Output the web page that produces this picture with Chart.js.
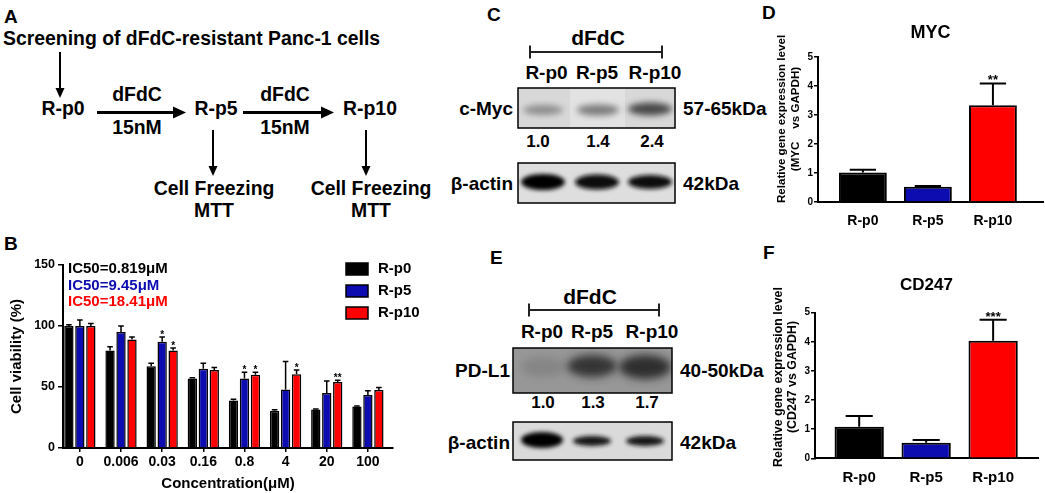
<!DOCTYPE html>
<html>
<head>
<meta charset="utf-8">
<script src="https://cdn.jsdelivr.net/npm/chart.js@4.4.0/dist/chart.umd.min.js"></script>
<style>
  body { margin: 0; background: #fff; }
  #fig { position: relative; width: 1045px; height: 493px; overflow: hidden; }
  #fig canvas { position: absolute; }
  #art { position: absolute; left: 0; top: 0; }
</style>
</head>
<body>
<div id="fig">
<svg id="art" width="1045" height="493" font-family="Liberation Sans, Arial, sans-serif" font-weight="bold" dominant-baseline="central">
  <defs>
    <filter id="bl2" x="-50%" y="-50%" width="200%" height="200%"><feGaussianBlur stdDeviation="2"/></filter>
    <filter id="bl3" x="-50%" y="-50%" width="200%" height="200%"><feGaussianBlur stdDeviation="3"/></filter>
    <filter id="bl4" x="-50%" y="-50%" width="200%" height="200%"><feGaussianBlur stdDeviation="4"/></filter>
    <clipPath id="cMyc"><rect x="518" y="88" width="157" height="40"/></clipPath>
    <clipPath id="cAct1"><rect x="518" y="163" width="157" height="40"/></clipPath>
    <clipPath id="cPdl"><rect x="513" y="348" width="159" height="45"/></clipPath>
    <clipPath id="cAct2"><rect x="513" y="422" width="159" height="38"/></clipPath>
  </defs>

  <!-- panel letters -->
  <g font-size="19">
    <text x="4" y="16">A</text>
    <text x="4" y="243">B</text>
    <text x="487" y="14">C</text>
    <text x="762" y="12">D</text>
    <text x="490" y="257">E</text>
    <text x="763" y="252">F</text>
  </g>

  <!-- A: flow diagram -->
  <g font-size="19.4" text-anchor="middle">
    <text x="3" y="38" text-anchor="start">Screening of dFdC-resistant Panc-1 cells</text>
    <text x="63" y="107.5">R-p0</text>
    <text x="216" y="107.5">R-p5</text>
    <text x="370" y="107.5">R-p10</text>
    <text x="137" y="94">dFdC</text>
    <text x="137" y="127">15nM</text>
    <text x="285" y="94">dFdC</text>
    <text x="285" y="127">15nM</text>
    <text x="214" y="187.5">Cell Freezing</text>
    <text x="214" y="210">MTT</text>
    <text x="371" y="187.5">Cell Freezing</text>
    <text x="371" y="210">MTT</text>
  </g>
  <g stroke="#000" stroke-width="2">
    <line x1="60" y1="52" x2="60" y2="89"/>
    <line x1="213" y1="130" x2="213" y2="167"/>
    <line x1="366" y1="130" x2="366" y2="167"/>
  </g>
  <g stroke="#000" stroke-width="3">
    <line x1="97" y1="112.5" x2="175" y2="112.5"/>
    <line x1="243" y1="112.5" x2="323" y2="112.5"/>
  </g>
  <g fill="#000">
    <polygon points="55.5,88 64.5,88 60,98"/>
    <polygon points="208.5,166 217.5,166 213,176"/>
    <polygon points="361.5,166 370.5,166 366,176"/>
    <polygon points="173,106.5 173,118.5 186,112.5"/>
    <polygon points="321,106.5 321,118.5 334,112.5"/>
  </g>

  <!-- C: c-Myc western blot -->
  <text x="598" y="37.5" font-size="21" text-anchor="middle">dFdC</text>
  <g stroke="#222" stroke-width="2">
    <line x1="530" y1="52" x2="662" y2="52"/>
    <line x1="530" y1="45.5" x2="530" y2="58.5"/>
    <line x1="662" y1="45.5" x2="662" y2="58.5"/>
  </g>
  <g font-size="19" text-anchor="middle">
    <text x="546.5" y="72.5">R-p0</text>
    <text x="597" y="72.5">R-p5</text>
    <text x="655" y="72.5">R-p10</text>
  </g>
  <g clip-path="url(#cMyc)">
    <rect x="518" y="88" width="157" height="40" fill="#d8d8d8"/>
    <rect x="570" y="88" width="55" height="40" fill="#e2e2e2"/>
    <ellipse cx="543" cy="110" rx="20" ry="5" fill="#8c8c8c" filter="url(#bl3)"/>
    <ellipse cx="598" cy="110" rx="21" ry="5.5" fill="#7a7a7a" filter="url(#bl3)"/>
    <ellipse cx="650" cy="109" rx="22" ry="6.5" fill="#474747" filter="url(#bl3)"/>
  </g>
  <rect x="518" y="88" width="157" height="40" fill="none" stroke="#000" stroke-width="1.5"/>
  <g clip-path="url(#cAct1)">
    <rect x="518" y="163" width="157" height="40" fill="#dedede"/>
    <ellipse cx="543" cy="182" rx="22" ry="8" fill="#060606" filter="url(#bl2)"/>
    <ellipse cx="597" cy="182" rx="22" ry="7.5" fill="#0c0c0c" filter="url(#bl2)"/>
    <ellipse cx="650" cy="182" rx="22" ry="7" fill="#101010" filter="url(#bl2)"/>
  </g>
  <rect x="518" y="163" width="157" height="40" fill="none" stroke="#000" stroke-width="1.5"/>
  <g font-size="19">
    <text x="513" y="108" text-anchor="end">c-Myc</text>
    <text x="513" y="183" text-anchor="end">β-actin</text>
    <text x="683" y="108">57-65kDa</text>
    <text x="683" y="183">42kDa</text>
  </g>
  <g id="mycNums" font-size="17" text-anchor="middle"></g>

  <!-- E: PD-L1 western blot -->
  <text x="590" y="296" font-size="21" text-anchor="middle">dFdC</text>
  <g stroke="#222" stroke-width="2">
    <line x1="529" y1="310" x2="659" y2="310"/>
    <line x1="529" y1="303.5" x2="529" y2="316.5"/>
    <line x1="659" y1="303.5" x2="659" y2="316.5"/>
  </g>
  <g font-size="19" text-anchor="middle">
    <text x="542" y="331">R-p0</text>
    <text x="592" y="331">R-p5</text>
    <text x="652" y="331">R-p10</text>
  </g>
  <g clip-path="url(#cPdl)">
    <rect x="513" y="348" width="159" height="45" fill="#979797"/>
    <ellipse cx="543" cy="367" rx="22" ry="10" fill="#858585" filter="url(#bl4)"/>
    <ellipse cx="592" cy="366" rx="25" ry="11" fill="#353535" filter="url(#bl4)"/>
    <ellipse cx="645" cy="367" rx="26" ry="12" fill="#2e2e2e" filter="url(#bl4)"/>
  </g>
  <rect x="513" y="348" width="159" height="45" fill="none" stroke="#000" stroke-width="1.5"/>
  <g clip-path="url(#cAct2)">
    <rect x="513" y="422" width="159" height="38" fill="#dadada"/>
    <ellipse cx="542" cy="440" rx="21" ry="8" fill="#040404" filter="url(#bl2)"/>
    <ellipse cx="592" cy="441" rx="19" ry="5" fill="#161616" filter="url(#bl2)"/>
    <ellipse cx="645" cy="441" rx="19" ry="5" fill="#161616" filter="url(#bl2)"/>
  </g>
  <rect x="513" y="422" width="159" height="38" fill="none" stroke="#000" stroke-width="1.5"/>
  <g font-size="19">
    <text x="510" y="370" text-anchor="end">PD-L1</text>
    <text x="510" y="442" text-anchor="end">β-actin</text>
    <text x="680" y="370">40-50kDa</text>
    <text x="680" y="442">42kDa</text>
  </g>
  <g id="pdlNums" font-size="17" text-anchor="middle"></g>
</svg>
<canvas id="chartB" width="430" height="243" style="left:0;top:250px"></canvas>
<canvas id="chartD" width="285" height="240" style="left:760px;top:0"></canvas>
<canvas id="chartF" width="285" height="253" style="left:760px;top:240px"></canvas>
</div>

<script>
// B: cell viability (MTT)
const concLabels = ['0', '0.006', '0.03', '0.16', '0.8', '4', '20', '100'];
const groupNames = ['R-p0', 'R-p5', 'R-p10'];
const viabP0 = [100, 80, 67, 57, 39, 30.5, 31.5, 34];
const viabP5 = [100, 95, 87, 65, 57, 48, 45, 43.5];
const viabP10 = [100, 89, 80, 64, 60, 60.5, 54, 47.5];
const errP0 = [1, 3, 2.5, 0.5, 1, 0.8, 0.5, 0.5];
const errP5 = [5, 5, 4, 4.5, 5, 23, 10, 3.5];
const errP10 = [2, 2, 2, 2, 2, 3.5, 1.5, 2];
const starsP0 = ['', '', '', '', '', '', '', ''];
const starsP5 = ['', '', '*', '', '*', '', '', ''];
const starsP10 = ['', '', '*', '', '*', '*', '**', ''];
const ic50Text = ['IC50=0.819μM', 'IC50=9.45μM', 'IC50=18.41μM'];

// D / F: qPCR
const mycMean = [1.02, 0.53, 3.34];
const mycErr = [0.09, 0.02, 0.75];
const mycStars = ['', '', '**'];
const cd247Mean = [1.08, 0.53, 4.04];
const cd247Err = [0.37, 0.1, 0.72];
const cd247Stars = ['', '', '***'];

// C / E: band quantification
const mycBlot = ['1.0', '1.4', '2.4'];
const pdl1Blot = ['1.0', '1.3', '1.7'];

const groupColors = ['#000000', '#0c0cb0', '#ff0000'];
const FONT = '"Liberation Sans", Arial, sans-serif';

Chart.defaults.font.family = FONT;
Chart.defaults.font.weight = 'bold';
Chart.defaults.color = '#000';
Chart.defaults.animation = false;

// blot numbers
function putNums(id, nums, xs, y) {
    const g = document.getElementById(id);
    nums.forEach((t, i) => {
        const el = document.createElementNS('http://www.w3.org/2000/svg', 'text');
        el.setAttribute('x', xs[i]);
        el.setAttribute('y', y);
        el.textContent = t;
        g.appendChild(el);
    });
}
putNums('mycNums', mycBlot, [538, 598, 652], 141);
putNums('pdlNums', pdl1Blot, [543, 593, 647], 402);

const errorBars = {
    id: 'errorBars',
    afterDatasetsDraw(chart, args, opts) {
        const ctx = chart.ctx;
        const y = chart.scales.y;
        ctx.save();
        ctx.strokeStyle = '#000';
        ctx.lineWidth = opts.lineWidth;
        chart.data.datasets.forEach((ds, i) => {
            chart.getDatasetMeta(i).data.forEach((bar, j) => {
                const top = y.getPixelForValue(ds.data[j].y + opts.errors[i][j]);
                const cap = bar.width * opts.cap / 2;
                ctx.beginPath();
                ctx.moveTo(bar.x, bar.y);
                ctx.lineTo(bar.x, top);
                ctx.moveTo(bar.x - cap, top);
                ctx.lineTo(bar.x + cap, top);
                ctx.stroke();
                const s = opts.stars[i][j];
                if (s) {
                    ctx.fillStyle = '#000';
                    ctx.font = opts.starFont;
                    ctx.textAlign = 'center';
                    ctx.textBaseline = 'alphabetic';
                    ctx.fillText(s, bar.x, top + 1);
                }
            });
        });
        ctx.restore();
    }
};

const sideText = {
    id: 'sideText',
    afterDraw(chart, args, opts) {
        const ctx = chart.ctx;
        ctx.save();
        (opts.items || []).forEach(it => {
            ctx.save();
            ctx.translate(it.x, it.y);
            if (it.rot) ctx.rotate(-Math.PI / 2);
            ctx.font = it.font;
            ctx.fillStyle = it.color || '#000';
            ctx.textAlign = it.align || 'center';
            ctx.textBaseline = 'middle';
            ctx.fillText(it.text, 0, 0);
            ctx.restore();
        });
        (opts.legend || []).forEach(it => {
            ctx.fillStyle = it.color;
            ctx.fillRect(it.x, it.y - 6, 22, 12);
            ctx.strokeStyle = '#000';
            ctx.lineWidth = 1.5;
            ctx.strokeRect(it.x, it.y - 6, 22, 12);
            ctx.fillStyle = '#000';
            ctx.font = 'bold 15px ' + FONT;
            ctx.textAlign = 'left';
            ctx.textBaseline = 'middle';
            ctx.fillText(it.text, it.x + 32, it.y);
        });
        ctx.restore();
    }
};

function xyData(vals) {
    return vals.map((v, i) => ({ x: i, y: v }));
}

// ---- B ----
new Chart(document.getElementById('chartB'), {
    type: 'bar',
    data: {
        datasets: [viabP0, viabP5, viabP10].map((vals, i) => ({
            label: groupNames[i],
            data: xyData(vals),
            backgroundColor: groupColors[i],
            borderColor: '#000',
            borderWidth: 1.5,
            categoryPercentage: 0.8,
            barPercentage: 0.85
        }))
    },
    options: {
        responsive: false,
        devicePixelRatio: 1,
        layout: { padding: { top: 15, right: 37, left: 0, bottom: 0 } },
        plugins: {
            legend: { display: false },
            tooltip: { enabled: false },
            errorBars: {
                errors: [errP0, errP5, errP10],
                stars: [starsP0, starsP5, starsP10],
                cap: 0.6, lineWidth: 1.5, starFont: 'bold 10px ' + FONT
            },
            sideText: {
                items: ic50Text.map((t, i) => ({
                    text: t, x: 68, y: 19 + i * 16.5, align: 'left',
                    font: 'bold 15px ' + FONT, color: groupColors[i]
                })),
                legend: groupNames.map((t, i) => ({ text: t, x: 346, y: 19 + i * 22, color: groupColors[i] }))
            }
        },
        scales: {
            x: {
                type: 'linear',
                min: -0.41,
                max: 7.61,
                offset: false,
                afterBuildTicks: s => { s.ticks = concLabels.map((_, i) => ({ value: i })); },
                afterFit: s => { s.height = 45; },
                ticks: {
                    callback: v => concLabels[v],
                    font: { size: 14 },
                    padding: 2,
                    maxRotation: 0,
                    autoSkip: false
                },
                grid: { drawOnChartArea: false, offset: false, color: '#000', lineWidth: 1.5, tickLength: 4 },
                border: { color: '#000', width: 2 },
                title: { display: true, text: 'Concentration(μM)', font: { size: 15 }, padding: { top: 2, bottom: 0 } }
            },
            y: {
                min: 0,
                max: 150,
                afterFit: s => { s.width = 63; },
                ticks: { stepSize: 50, font: { size: 12.5 }, padding: 3 },
                grid: { drawOnChartArea: false, color: '#000', lineWidth: 1.5, tickLength: 5 },
                border: { color: '#000', width: 2 },
                title: { display: true, text: 'Cell viability (%)', font: { size: 15 }, padding: { top: 8, bottom: 0 } }
            }
        }
    },
    plugins: [errorBars, sideText]
});

// ---- D / F ----
function qpcrChart(id, title, means, errs, stars, cfg) {
    new Chart(document.getElementById(id), {
        type: 'bar',
        data: {
            datasets: [{
                label: title,
                data: xyData(means),
                backgroundColor: groupColors,
                borderColor: '#000',
                borderWidth: 2,
                categoryPercentage: 0.8,
                barPercentage: 0.92
            }]
        },
        options: {
            responsive: false,
            devicePixelRatio: 1,
            layout: { padding: { top: 0, right: cfg.padRight, left: 0, bottom: 0 } },
            plugins: {
                legend: { display: false },
                tooltip: { enabled: false },
                title: {
                    display: true, text: title, fullSize: false,
                    font: { size: cfg.titleSize }, color: '#000',
                    padding: cfg.titlePad
                },
                errorBars: {
                    errors: [errs], stars: [stars],
                    cap: 0.55, lineWidth: 2, starFont: 'bold 13px ' + FONT
                },
                sideText: {
                    items: cfg.yTitle.map((t, i) => ({
                        text: t, x: cfg.yTitleX[i], y: cfg.yTitleY, rot: true,
                        font: 'bold ' + cfg.yTitleSize + 'px ' + FONT
                    }))
                }
            },
            scales: {
                x: {
                    type: 'linear',
                    min: cfg.xMin,
                    max: cfg.xMax,
                    offset: false,
                    afterBuildTicks: s => { s.ticks = groupNames.map((_, i) => ({ value: i })); },
                    afterFit: s => { s.height = cfg.xHeight; },
                    ticks: {
                        callback: v => groupNames[v],
                        font: { size: cfg.xFont },
                        padding: 3,
                        maxRotation: 0,
                        autoSkip: false
                    },
                    grid: { display: false },
                    border: { color: '#000', width: 2 }
                },
                y: {
                    min: 0,
                    max: 5,
                    afterFit: s => { s.width = cfg.yWidth; },
                    ticks: { stepSize: 1, font: { size: 10 }, padding: 1 },
                    grid: { drawOnChartArea: false, color: '#000', lineWidth: 1.5, tickLength: 4 },
                    border: { color: '#000', width: 2 }
                }
            }
        },
        plugins: [errorBars, sideText]
    });
}

qpcrChart('chartD', 'MYC', mycMean, mycErr, mycStars, {
    padRight: 2, yWidth: 58, xHeight: 38, xMin: -0.69, xMax: 2.77, xFont: 14,
    titleSize: 18, titlePad: { top: 22, bottom: 13.4 },
    yTitle: ['Relative gene expression level', '(MYC    vs GAPDH)'],
    yTitleX: [22, 36], yTitleY: 119, yTitleSize: 11.6
});

qpcrChart('chartF', 'CD247', cd247Mean, cd247Err, cd247Stars, {
    padRight: 7, yWidth: 55, xHeight: 34.7, xMin: -0.66, xMax: 2.67, xFont: 15,
    titleSize: 17, titlePad: { top: 34.8, bottom: 17.5 },
    yTitle: ['Relative gene expression level', '(CD247 vs GAPDH)'],
    yTitleX: [19, 33], yTitleY: 137, yTitleSize: 12.4
});
</script>
</body>
</html>
